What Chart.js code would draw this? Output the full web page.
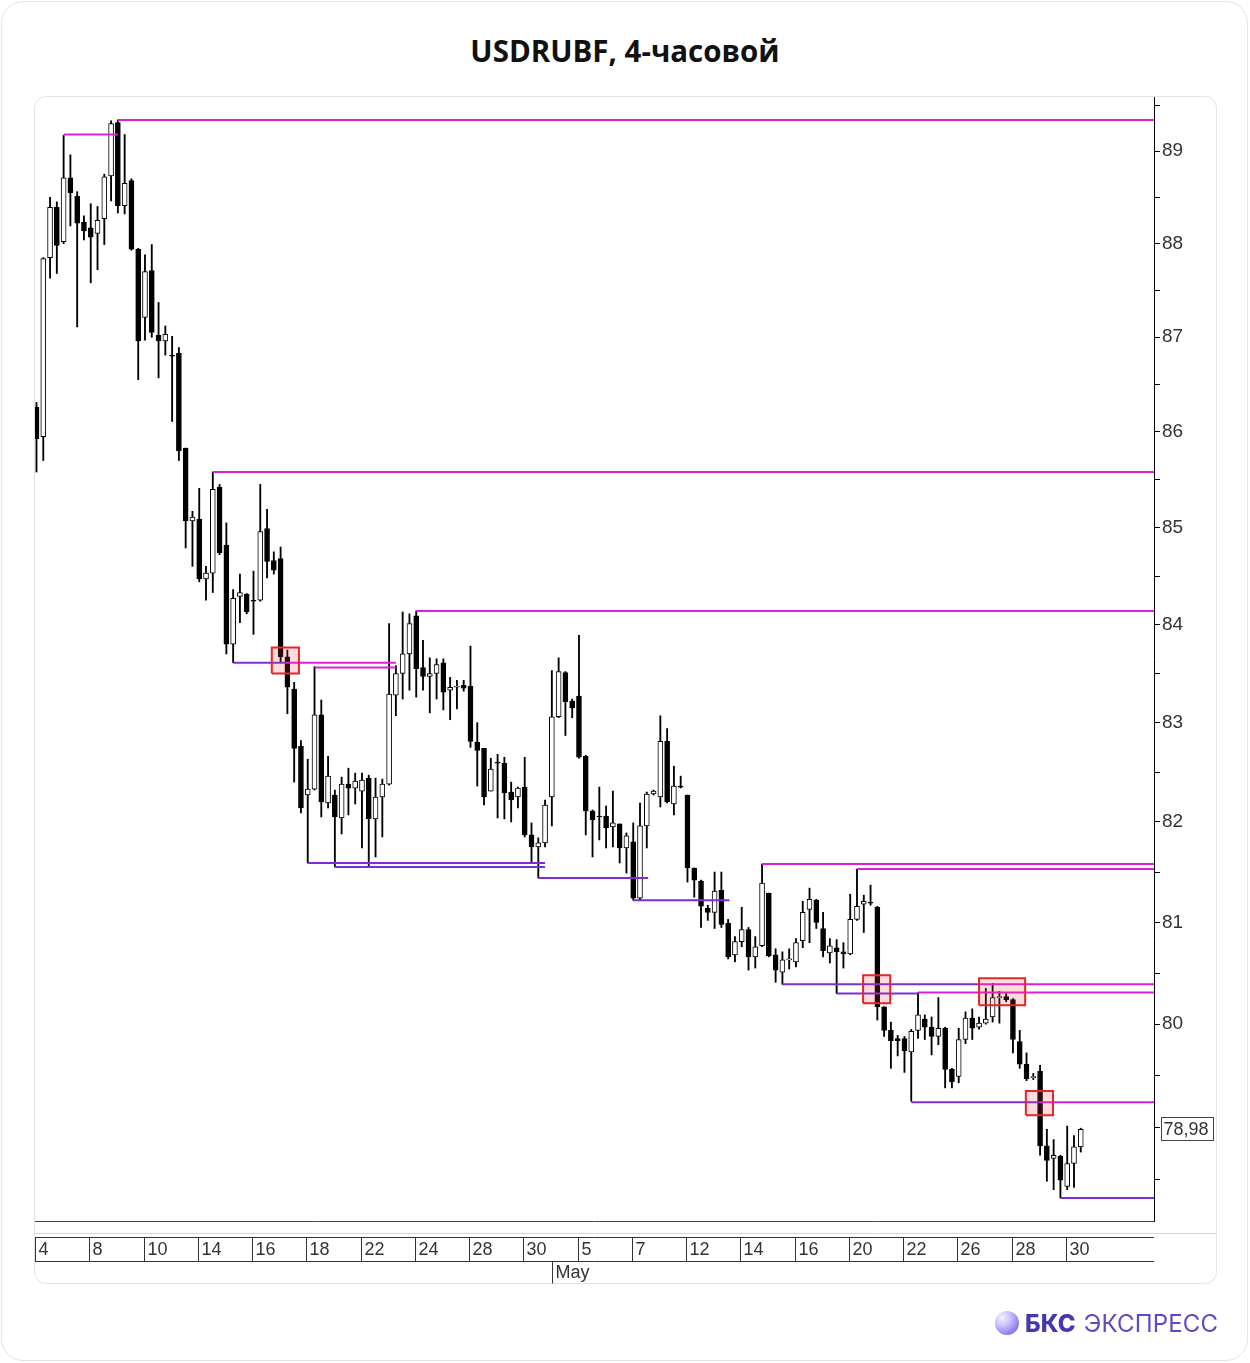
<!DOCTYPE html>
<html lang="ru">
<head>
<meta charset="utf-8">
<title>USDRUBF, 4-часовой</title>
<script src="https://cdn.jsdelivr.net/npm/chart.js@4.4.1/dist/chart.umd.min.js"></script>
<style>
  html, body { margin: 0; padding: 0; background: #fff; }
  #page { position: relative; width: 1250px; height: 1363px; overflow: hidden; }
  .card { position: absolute; left: 1px; top: 1px; width: 1247px; height: 1360px; border: 1px solid #e2e2e2; border-radius: 22px; box-sizing: border-box; }
  .panel { position: absolute; left: 34px; top: 96px; width: 1183px; height: 1188px; border: 1px solid #e4e4e4; border-radius: 12px; box-sizing: border-box; }
  .panel-line { position: absolute; left: 35px; top: 1233px; width: 1181px; height: 1px; background: #d6d6d6; }
  h1 { position: absolute; left: 0; top: 29px; width: 1250px; margin: 0; text-align: center;
       font-family: 'Open Sans', 'Noto Sans', sans-serif; font-size: 29.5px; font-weight: 700; color: #111; line-height: 44px; }
  #chart { position: absolute; left: 0; top: 0; }
  .logo { position: absolute; left: 995px; top: 1308px; height: 30px; display: flex; align-items: center;
          font-family: Inter, 'Open Sans', sans-serif; font-size: 24px; letter-spacing: 0.2px; }
  .logo .ball { width: 24px; height: 24px; border-radius: 50%; margin-right: 6px;
                background: radial-gradient(circle at 30% 28%, #f4f2ff 0%, #c9c1fa 35%, #8f80ee 70%, #6a58dc 100%); }
  .logo b { color: #4636b4; font-weight: 800; margin-right: 8px; }
  .logo span { color: #5a4bc6; font-weight: 400; }
</style>
</head>
<body>
<div id="page">
  <div class="card"></div>
  <div class="panel"></div>
  <div class="panel-line"></div>
  <h1>USDRUBF, 4-часовой</h1>
  <canvas id="chart" width="1250" height="1363"></canvas>
  <div class="logo"><div class="ball"></div><b>БКС</b><span>ЭКСПРЕСС</span></div>
</div>
<script>
// 4-hour candles, index 0 = first candle on the chart
const opens = [
  86.26, 85.95, 87.85, 88.39, 88.02, 88.71, 88.51, 88.23, 88.17, 88.11,
  88.27, 88.73, 89.31, 88.41, 88.68, 87.94, 87.21, 87.71, 87.02, 86.96,
  86.81, 86.83, 85.83, 85.07, 85.09, 84.47, 84.53, 85.42, 84.82, 83.80,
  84.29, 84.31, 84.25, 84.25, 84.99, 84.66, 84.68, 83.67, 83.34, 82.76,
  82.27, 82.33, 83.08, 82.19, 82.27, 82.04, 82.38, 82.34, 82.31, 82.44,
  82.03, 82.25, 82.38, 83.28, 83.50, 83.70, 84.09, 83.56, 83.47, 83.50,
  83.61, 83.33, 83.36, 83.38, 83.37, 82.80, 82.74, 82.31, 82.60, 82.59,
  82.30, 82.25, 82.35, 81.87, 81.75, 81.79, 82.25, 83.06, 83.51, 83.22,
  83.27, 82.66, 82.11, 82.06, 82.06, 81.95, 81.98, 81.74, 81.80, 81.24,
  81.96, 82.28, 82.25, 82.81, 82.18, 82.36, 82.27, 81.54, 81.41, 81.14,
  81.10, 81.32, 80.99, 80.68, 80.81, 80.93, 80.66, 80.77, 81.29, 80.68,
  80.51, 80.63, 80.61, 80.82, 81.13, 81.22, 80.94, 80.70, 80.75, 80.71,
  80.69, 81.03, 81.18, 81.20, 81.15, 80.17, 79.94, 79.86, 79.86, 79.73,
  79.94, 80.05, 79.97, 79.88, 79.96, 79.56, 79.49, 79.85, 80.06, 79.97,
  80.01, 80.07, 80.26, 80.27, 80.24, 79.83, 79.61, 79.48, 79.54, 78.82,
  78.70, 78.72, 78.43, 78.65, 78.81
];
const highs = [
  86.31, 87.85, 88.50, 88.45, 89.17, 88.96, 88.56, 88.30, 88.43, 88.40,
  88.75, 89.33, 89.34, 89.18, 88.70, 87.95, 87.88, 87.99, 87.37, 87.12,
  87.01, 86.89, 85.83, 85.17, 85.41, 84.60, 85.58, 85.45, 85.05, 84.36,
  84.52, 84.32, 84.55, 85.45, 85.19, 84.75, 84.80, 83.74, 83.41, 82.82,
  82.63, 83.57, 83.23, 82.66, 82.32, 82.45, 82.54, 82.49, 82.49, 82.47,
  82.44, 82.43, 84.01, 83.58, 84.13, 84.11, 84.14, 83.84, 83.66, 83.65,
  83.65, 83.46, 83.43, 83.43, 83.78, 83.00, 82.74, 82.64, 82.68, 82.65,
  82.40, 82.35, 82.65, 81.99, 81.84, 82.22, 83.53, 83.66, 83.52, 83.24,
  83.89, 82.67, 82.12, 82.35, 82.16, 82.31, 81.98, 81.89, 81.99, 82.19,
  82.30, 82.32, 83.07, 82.94, 82.56, 82.46, 82.27, 81.54, 81.42, 81.17,
  81.50, 81.50, 81.03, 80.86, 81.15, 80.95, 80.86, 81.58, 81.29, 80.74,
  80.71, 80.74, 80.84, 81.21, 81.34, 81.23, 81.10, 80.84, 80.83, 80.80,
  81.28, 81.53, 81.27, 81.37, 81.16, 80.17, 80.02, 79.89, 79.88, 79.95,
  80.31, 80.09, 80.07, 80.26, 79.97, 79.57, 79.96, 80.12, 80.15, 80.07,
  80.35, 80.40, 80.32, 80.30, 80.25, 79.94, 79.72, 79.52, 79.60, 78.98,
  78.88, 78.73, 79.01, 78.92, 78.99
];
const lows = [
  85.58, 85.70, 87.63, 87.68, 88.00, 88.19, 87.11, 88.04, 87.58, 87.72,
  87.99, 88.46, 88.33, 88.32, 87.93, 86.55, 86.97, 87.00, 86.57, 86.81,
  86.11, 85.70, 84.79, 84.60, 84.44, 84.25, 84.33, 84.72, 83.70, 83.61,
  84.02, 84.11, 83.90, 84.24, 84.48, 84.52, 83.62, 83.09, 82.40, 82.09,
  81.59, 82.32, 82.05, 82.14, 81.55, 81.88, 82.07, 82.18, 81.74, 81.55,
  81.65, 81.85, 82.37, 83.07, 83.24, 83.33, 83.26, 83.33, 83.10, 83.24,
  83.13, 83.03, 83.14, 83.32, 82.75, 82.36, 82.17, 82.31, 82.04, 82.03,
  82.00, 82.14, 81.85, 81.59, 81.44, 81.75, 81.96, 83.05, 82.87, 83.05,
  82.64, 81.87, 81.65, 81.82, 81.74, 81.75, 81.59, 81.49, 81.22, 81.22,
  81.74, 82.27, 82.15, 82.19, 82.07, 82.34, 81.40, 81.25, 80.95, 81.02,
  80.94, 80.95, 80.64, 80.61, 80.76, 80.53, 80.55, 80.76, 80.66, 80.41,
  80.39, 80.54, 80.56, 80.75, 80.80, 80.94, 80.66, 80.60, 80.30, 80.55,
  80.68, 81.02, 80.90, 81.17, 80.04, 79.88, 79.57, 79.69, 79.53, 79.25,
  79.86, 79.85, 79.70, 79.80, 79.38, 79.38, 79.43, 79.81, 79.85, 79.95,
  80.00, 80.02, 80.01, 80.22, 79.72, 79.57, 79.45, 79.46, 78.73, 78.48,
  78.40, 78.32, 78.40, 78.42, 78.76
];
const closes = [
  85.93, 87.84, 88.39, 87.98, 88.71, 88.55, 88.22, 88.14, 88.07, 88.25,
  88.72, 89.30, 88.41, 88.65, 87.94, 86.96, 87.70, 87.05, 86.96, 87.03,
  86.80, 85.80, 85.07, 85.11, 84.47, 84.53, 85.40, 84.74, 83.80, 84.27,
  84.33, 84.13, 84.24, 84.96, 84.65, 84.56, 83.67, 83.36, 82.74, 82.14,
  82.33, 83.08, 82.20, 82.46, 82.05, 82.38, 82.34, 82.41, 82.42, 82.03,
  82.25, 82.38, 83.29, 83.50, 83.70, 84.01, 83.55, 83.47, 83.50, 83.59,
  83.31, 83.36, 83.37, 83.35, 82.81, 82.72, 82.25, 82.53, 82.59, 82.29,
  82.22, 82.34, 81.87, 81.75, 81.79, 82.17, 83.06, 83.52, 83.21, 83.15,
  82.65, 82.11, 82.02, 82.05, 81.94, 81.99, 81.74, 81.86, 81.24, 81.96,
  82.28, 82.31, 82.81, 82.20, 82.36, 82.35, 81.54, 81.42, 81.16, 81.10,
  81.31, 80.98, 80.66, 80.81, 80.93, 80.66, 80.76, 81.39, 80.67, 80.53,
  80.63, 80.64, 80.80, 81.10, 81.23, 81.00, 80.72, 80.77, 80.71, 80.69,
  81.03, 81.16, 81.21, 81.19, 80.17, 79.94, 79.84, 79.84, 79.74, 79.93,
  80.09, 79.97, 79.88, 79.96, 79.56, 79.44, 79.85, 80.06, 79.96, 80.01,
  80.05, 80.26, 80.27, 80.24, 79.85, 79.61, 79.47, 79.49, 78.82, 78.68,
  78.73, 78.49, 78.65, 78.81, 78.98
];

// date strip: label and the candle index where its period begins
const dateLabels = ['4', '8', '10', '14', '16', '18', '22', '24', '28', '30',
                    '5', '7', '12', '14', '16', '20', '22', '26', '28', '30'];
const dateStarts = [0, 8, 16, 24, 32, 40, 48, 56, 64, 72,
                    80, 88, 96, 104, 112, 120, 128, 136, 144, 152];
const monthLabels = ['May'];
const monthStarts = [76];

// price axis
const tickValues = [78.5, 79, 79.5, 80, 80.5, 81, 81.5, 82, 82.5, 83, 83.5,
                    84, 84.5, 85, 85.5, 86, 86.5, 87, 87.5, 88, 88.5, 89, 89.5];
const hiddenTickLabels = [79];

// levels: [price, from candle, to candle]
const resistanceLevels = [
  [89.34, 12, 165], [89.18, 4, 12], [85.58, 26, 165], [84.14, 56, 165],
  [83.56, 41, 53], [83.61, 36.7, 53], [81.58, 107, 165], [81.53, 121, 165],
  [80.39, 139, 165], [80.31, 130, 165], [79.24, 148, 165]
];
const supportLevels = [
  [83.61, 29, 36.7], [81.59, 40, 75], [81.55, 44, 75], [81.44, 74, 90.2],
  [81.22, 88, 102.2], [80.39, 110, 139], [80.30, 118, 130], [79.24, 129, 148],
  [78.32, 151, 165]
];
// breakout marks: [from candle, to candle, low, high]
const breakoutBoxes = [
  [34.7, 38.7, 83.50, 83.765],
  [121.9, 125.9, 80.205, 80.48],
  [139.0, 145.8, 80.185, 80.45],
  [145.9, 149.9, 79.115, 79.35]
];

const bodyColors = opens.map((o, i) => closes[i] >= o ? '#ffffff' : '#000000');
const lastPrice = closes[closes.length - 1];

function levelDataset(level, color) {
  return {
    type: 'line',
    data: [{x: level[1], y: level[0]}, {x: level[2], y: level[0]}],
    borderColor: color,
    borderWidth: 2,
    pointRadius: 0,
    tension: 0,
    order: 1
  };
}

function boxDataset(b) {
  return {
    type: 'line',
    data: [{x: b[0], y: b[2]}, {x: b[1], y: b[2]}, {x: b[1], y: b[3]}, {x: b[0], y: b[3]}, {x: b[0], y: b[2]}],
    borderColor: '#e3262a',
    borderWidth: 2,
    backgroundColor: 'rgba(240, 60, 60, 0.18)',
    fill: 'shape',
    pointRadius: 0,
    tension: 0,
    order: 0
  };
}

const dateStrip = {
  id: 'dateStrip',
  afterDraw(chart) {
    const {ctx, chartArea, scales: {x, y}} = chart;
    ctx.save();
    // bottom edge of the plot
    ctx.strokeStyle = '#444';
    ctx.lineWidth = 1;
    ctx.beginPath();
    ctx.moveTo(chartArea.left, chartArea.bottom + 0.5);
    ctx.lineTo(chartArea.right, chartArea.bottom + 0.5);
    ctx.stroke();

    const top = Math.round(chartArea.bottom) + 16.5;
    const bot = top + 24;
    ctx.strokeStyle = '#333';
    ctx.beginPath();
    ctx.moveTo(chartArea.left, top); ctx.lineTo(chartArea.right, top);
    ctx.moveTo(chartArea.left, bot); ctx.lineTo(chartArea.right, bot);
    ctx.stroke();

    ctx.font = '18px "Liberation Sans", Arial, sans-serif';
    ctx.fillStyle = '#333';
    ctx.textBaseline = 'middle';
    ctx.textAlign = 'left';
    dateStarts.forEach((s, i) => {
      const px = Math.round(x.getPixelForValue(s - 0.2)) + 0.5;
      ctx.beginPath();
      ctx.moveTo(px, top); ctx.lineTo(px, bot);
      ctx.stroke();
      ctx.fillText(dateLabels[i], px + 3, (top + bot) / 2 + 1);
    });
    monthStarts.forEach((s, i) => {
      const px = Math.round(x.getPixelForValue(s)) + 0.5;
      ctx.beginPath();
      ctx.moveTo(px, bot); ctx.lineTo(px, bot + 22);
      ctx.stroke();
      ctx.fillText(monthLabels[i], px + 3, bot + 12);
    });

    // last price marker on the price axis
    const py = y.getPixelForValue(lastPrice);
    const bx = chartArea.right + 7.5;
    ctx.fillStyle = '#fff';
    ctx.fillRect(bx, Math.round(py) - 11.5, 52, 23);
    ctx.strokeStyle = '#444';
    ctx.strokeRect(bx, Math.round(py) - 11.5, 52, 23);
    ctx.fillStyle = '#333';
    ctx.fillText(lastPrice.toFixed(2).replace('.', ','), bx + 2, py + 1);
    ctx.restore();
  }
};

const datasets = [];
breakoutBoxes.forEach(b => datasets.push(boxDataset(b)));
resistanceLevels.forEach(l => datasets.push(levelDataset(l, '#dd1fdd')));
supportLevels.forEach(l => datasets.push(levelDataset(l, '#7b2ed6')));
datasets.push({
  label: 'body',
  data: opens.map((o, i) => ({x: i, y: [o, closes[i]]})),
  backgroundColor: bodyColors,
  borderColor: '#000',
  borderWidth: 1,
  borderSkipped: false,
  barThickness: 5,
  grouped: false,
  order: 2
});
datasets.push({
  label: 'wick',
  data: lows.map((l, i) => ({x: i, y: [l, highs[i]]})),
  backgroundColor: '#000',
  borderWidth: 0,
  barThickness: 1.2,
  grouped: false,
  order: 3
});

new Chart(document.getElementById('chart'), {
  type: 'bar',
  data: { datasets },
  options: {
    responsive: false,
    animation: false,
    devicePixelRatio: 1,
    layout: { padding: { left: 35, top: 97, right: 34, bottom: 142 } },
    plugins: { legend: { display: false }, tooltip: { enabled: false } },
    scales: {
      x: { type: 'linear', min: -0.22, max: 164.8, offset: false, display: false },
      y: {
        type: 'logarithmic',
        position: 'right',
        min: 78.10,
        max: 89.59,
        afterFit: (scale) => { scale.width = 62; },
        afterBuildTicks: (scale) => { scale.ticks = tickValues.map(v => ({ value: v })); },
        border: { display: true, color: '#000', width: 1 },
        grid: { drawOnChartArea: false, drawTicks: true, tickLength: 6, color: '#000' },
        ticks: {
          autoSkip: false,
          padding: 2,
          color: '#333',
          font: { family: '"Liberation Sans", Arial, sans-serif', size: 19 },
          callback: (v) => (Number.isInteger(v) && !hiddenTickLabels.includes(v)) ? String(v) : ''
        }
      }
    }
  },
  plugins: [dateStrip]
});
</script>
</body>
</html>
